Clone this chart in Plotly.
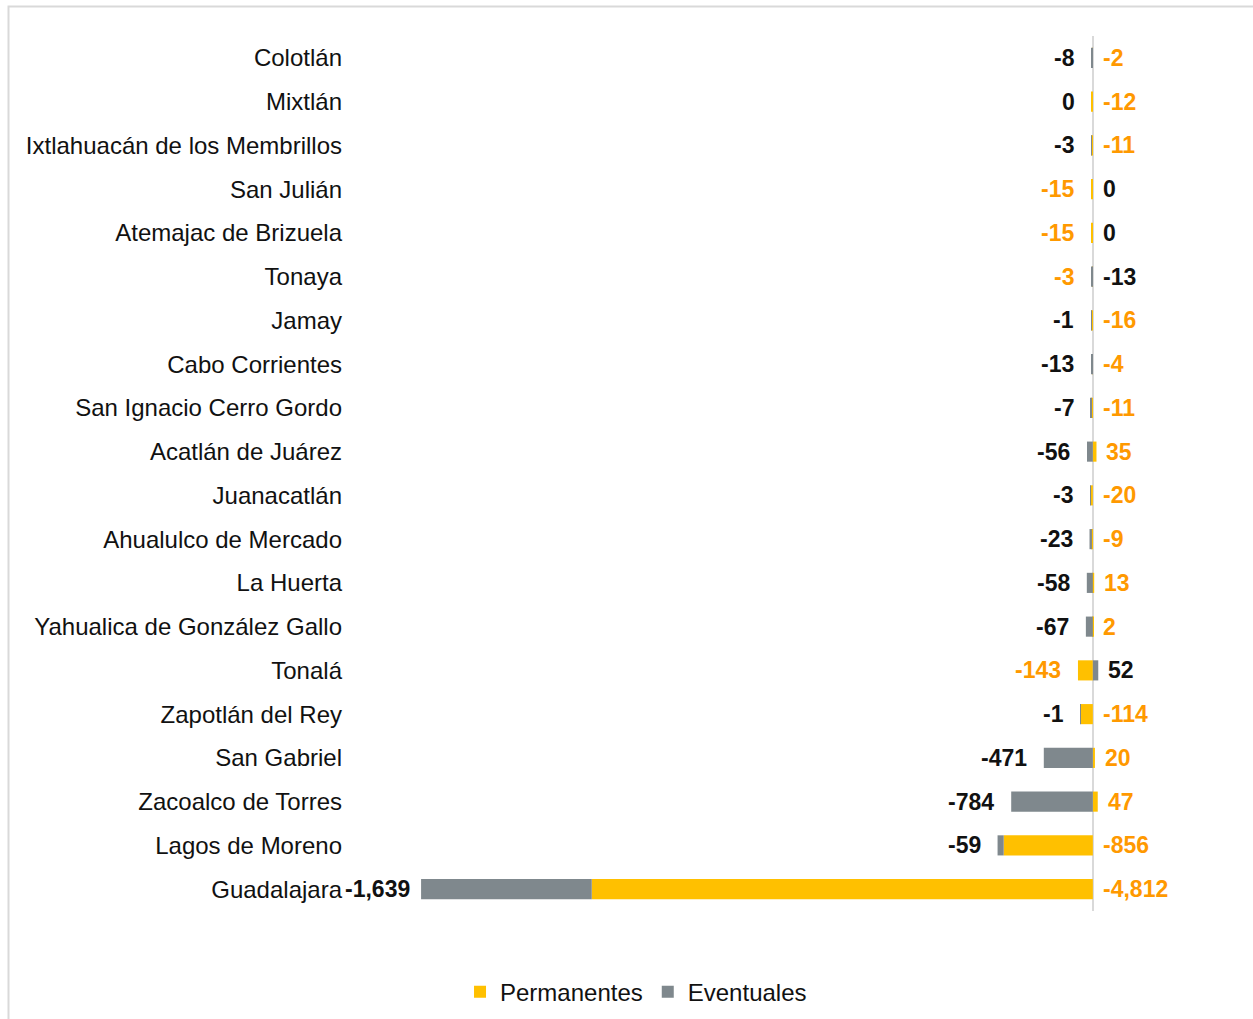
import plotly.graph_objects as go

# ---------------- data ----------------
municipios = [
    "Colotlán", "Mixtlán", "Ixtlahuacán de los Membrillos", "San Julián",
    "Atemajac de Brizuela", "Tonaya", "Jamay", "Cabo Corrientes",
    "San Ignacio Cerro Gordo", "Acatlán de Juárez", "Juanacatlán",
    "Ahualulco de Mercado", "La Huerta", "Yahualica de González Gallo",
    "Tonalá", "Zapotlán del Rey", "San Gabriel", "Zacoalco de Torres",
    "Lagos de Moreno", "Guadalajara",
]
permanentes = [-2, -12, -11, -15, -15, -3, -16, -4, -11, 35, -20, -9, 13, 2,
               -143, -114, 20, 47, -856, -4812]
eventuales = [-8, 0, -3, 0, 0, -13, -1, -13, -7, -56, -3, -23, -58, -67,
              52, -1, -471, -784, -59, -1639]

# which series' label sits on the left side of the bar (label layout)
perm_label_left = [False, False, False, True, True, True, False, False, False,
                   False, False, False, False, False, True, False, False,
                   False, False, False]

# ---------------- style ----------------
YELLOW = "#FFC000"
GRAY = "#7F888D"
ORANGE = "#FF9900"
BLACK = "#111111"
FONT = "Liberation Sans, Arial, sans-serif"

W, H = 1253, 1019
ML, MR, MT, MB = 346, 53, 36, 108
LEFT_LABEL_SHIFT = -15
LEFT_LABEL_SHIFT_OVERRIDE = {"Guadalajara": -9}

fig = go.Figure()
fig.add_trace(go.Bar(
    y=municipios, x=permanentes, name="Permanentes", orientation="h",
    marker=dict(color=YELLOW, line=dict(width=0)), hoverinfo="x+y",
))
fig.add_trace(go.Bar(
    y=municipios, x=eventuales, name="Eventuales", orientation="h",
    marker=dict(color=GRAY, line=dict(width=0)), hoverinfo="x+y",
))


def fmt(v):
    return f"{v:,}"


annotations = []
for name, p, e, pleft in zip(municipios, permanentes, eventuales, perm_label_left):
    neg_end = min(p, 0) + min(e, 0)
    pos_end = max(p, 0) + max(e, 0)
    if pleft:
        left_val, left_col, right_val, right_col = p, ORANGE, e, BLACK
    else:
        left_val, left_col, right_val, right_col = e, BLACK, p, ORANGE
    annotations.append(dict(
        x=neg_end, y=name, xref="x", yref="y", text=f"<b>{fmt(left_val)}</b>",
        showarrow=False, xanchor="right", yanchor="middle",
        xshift=LEFT_LABEL_SHIFT_OVERRIDE.get(name, LEFT_LABEL_SHIFT),
        font=dict(family=FONT, size=23, color=left_col),
    ))
    annotations.append(dict(
        x=pos_end, y=name, xref="x", yref="y", text=f"<b>{fmt(right_val)}</b>",
        showarrow=False, xanchor="left", yanchor="middle", xshift=8,
        font=dict(family=FONT, size=23, color=right_col),
    ))

pw = W - ML - MR
ph = H - MT - MB
# chart frame (decorative border, partially cropped)
frame_x0 = (8.5 - ML) / pw
frame_y0 = 1 + (MT - 6.5) / ph
frame_x1 = (W + 20 - ML) / pw
frame_y1 = -(MB + 20) / ph

fig.update_layout(
    width=W, height=H,
    margin=dict(l=ML, r=MR, t=MT, b=MB, pad=0, autoexpand=False),
    barmode="relative",
    bargap=0.54,
    plot_bgcolor="white",
    paper_bgcolor="white",
    font=dict(family=FONT, size=24, color=BLACK),
    showlegend=True,
    legend=dict(
        orientation="h", x=0.3396, xanchor="center", y=-0.0926, yanchor="middle",
        font=dict(family=FONT, size=24, color=BLACK), traceorder="normal",
        itemwidth=30,
    ),
    xaxis=dict(
        range=[-7172, 1029], showticklabels=False, showgrid=False,
        zeroline=True, zerolinecolor="#D9D9D9", zerolinewidth=2,
        showline=False, ticks="", fixedrange=True,
    ),
    yaxis=dict(
        categoryorder="array", categoryarray=municipios,
        range=[len(municipios) - 0.5, -0.5],
        showgrid=False, zeroline=False, showline=False, ticks="",
        tickfont=dict(family=FONT, size=24, color=BLACK),
        ticklabelstandoff=3,
        fixedrange=True,
    ),
    annotations=annotations,
    shapes=[dict(
        type="rect", xref="paper", yref="paper",
        x0=frame_x0, x1=frame_x1, y0=frame_y1, y1=frame_y0,
        line=dict(color="#D9D9D9", width=2), fillcolor="rgba(0,0,0,0)",
        layer="below",
    )],
)

fig.write_html(
    "out.html",
    config={"displayModeBar": False},
    post_script="document.body.style.margin='0px';document.body.style.overflow='hidden';",
)
